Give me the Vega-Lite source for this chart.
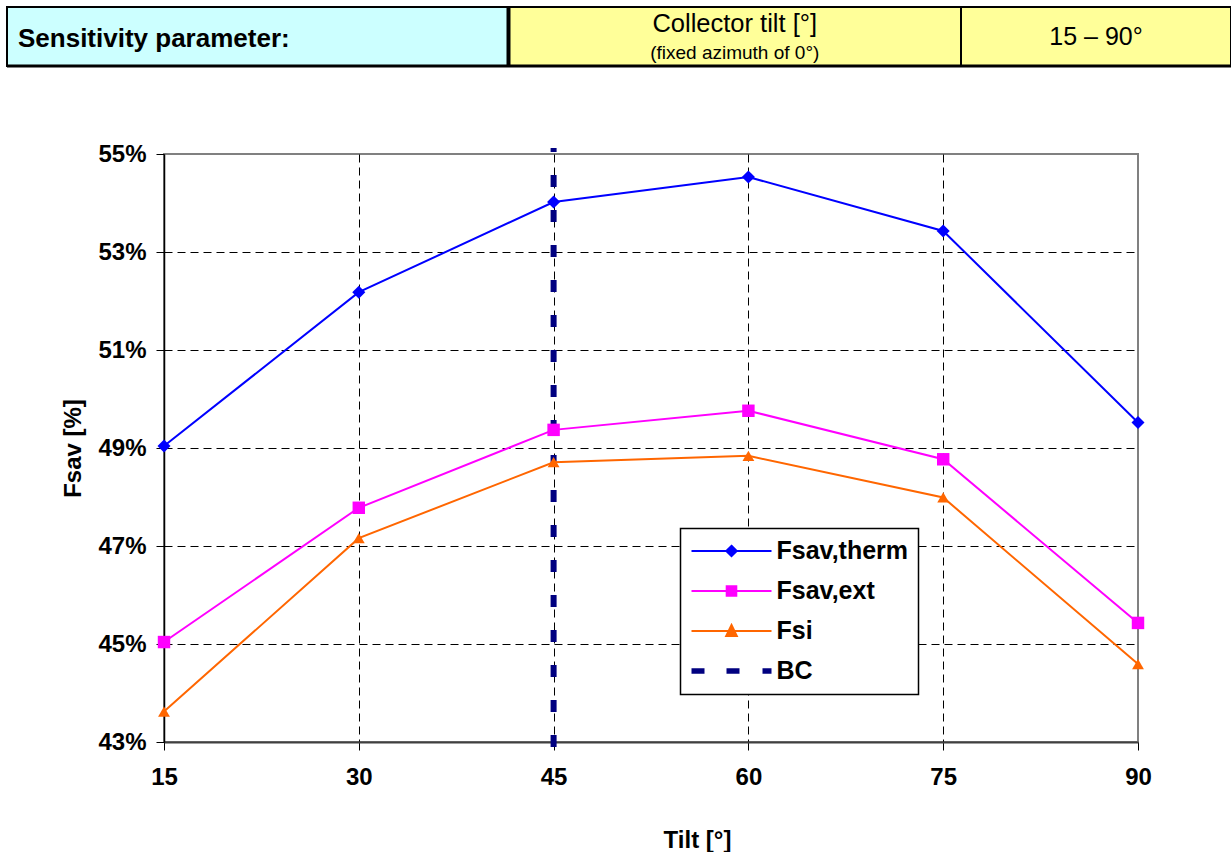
{
  "$schema": "https://vega.github.io/schema/vega-lite/v6.json",
  "background": "white",
  "padding": {"left": 5, "top": 5, "right": 0, "bottom": 0},
  "bounds": "flush",
  "spacing": 88,
  "config": {
    "font": "Liberation Sans",
    "legend": {"strokeWidth": 1.5}
  },
  "resolve": {"scale": {"x": "independent", "y": "independent", "fill": "independent", "color": "independent"}},
  "vconcat": [
    {
      "width": 974,
      "height": 59,
      "view": {"stroke": null},
      "data": {
        "values": [
          {"cell": "parameter", "c0": 0, "c1": 1, "title": "Sensitivity parameter:", "note": ""},
          {"cell": "name", "c0": 1, "c1": 2, "title": "Collector tilt [°]", "note": "(fixed azimuth of 0°)"},
          {"cell": "range", "c0": 2, "c1": 3, "title": "15 – 90°", "note": ""}
        ]
      },
      "layer": [
        {
          "mark": {"type": "rect", "stroke": "black", "strokeWidth": 2},
          "encoding": {
            "x": {"field": "c0", "type": "quantitative", "axis": null,
                  "scale": {"domain": [0, 1, 2, 3], "range": [-157, 344.5, 797, 1067], "nice": false, "zero": false}},
            "x2": {"field": "c1"},
            "y": {"datum": 0, "type": "quantitative", "axis": null,
                  "scale": {"domain": [0, 1], "range": [0, 59], "nice": false, "zero": false}},
            "y2": {"datum": 1},
            "fill": {"field": "cell", "type": "nominal", "legend": null,
                     "scale": {"domain": ["parameter", "name", "range"], "range": ["#CCFFFF", "#FFFF99", "#FFFF99"]}}
          }
        },
        {
          "data": {"values": [{}]},
          "mark": {"type": "rule", "color": "black", "strokeWidth": 3},
          "encoding": {"x": {"datum": 0}, "x2": {"datum": 3}, "y": {"datum": 1}}
        },
        {
          "data": {"values": [{}]},
          "mark": {"type": "rule", "color": "black", "strokeWidth": 4},
          "encoding": {"x": {"datum": 1}, "y": {"datum": 0}, "y2": {"datum": 1}}
        },
        {
          "transform": [{"filter": "datum.cell === 'parameter'"}],
          "mark": {"type": "text", "align": "left", "baseline": "alphabetic", "dx": 11, "fontSize": 26, "fontWeight": "bold", "color": "black"},
          "encoding": {"x": {"field": "c0", "type": "quantitative"}, "y": {"datum": 0.68}, "text": {"field": "title"}}
        },
        {
          "transform": [{"filter": "datum.cell === 'name'"}, {"calculate": "(datum.c0 + datum.c1) / 2", "as": "mid"}],
          "mark": {"type": "text", "align": "center", "baseline": "alphabetic", "fontSize": 25.5, "color": "black"},
          "encoding": {"x": {"field": "mid", "type": "quantitative"}, "y": {"datum": 0.42}, "text": {"field": "title"}}
        },
        {
          "transform": [{"filter": "datum.cell === 'name'"}, {"calculate": "(datum.c0 + datum.c1) / 2", "as": "mid"}],
          "mark": {"type": "text", "align": "center", "baseline": "alphabetic", "fontSize": 19, "color": "black"},
          "encoding": {"x": {"field": "mid", "type": "quantitative"}, "y": {"datum": 0.88}, "text": {"field": "note"}}
        },
        {
          "transform": [{"filter": "datum.cell === 'range'"}, {"calculate": "(datum.c0 + datum.c1) / 2", "as": "mid"}],
          "mark": {"type": "text", "align": "center", "baseline": "alphabetic", "fontSize": 25, "color": "black"},
          "encoding": {"x": {"field": "mid", "type": "quantitative"}, "y": {"datum": 0.65}, "text": {"field": "title"}}
        }
      ]
    },
    {
      "width": 974,
      "height": 588,
      "view": {"stroke": "#808080", "strokeWidth": 2},
      "data": {
        "values": [
          {"series": "Fsav,therm", "tilt": 15, "value": 0.4904},
          {"series": "Fsav,therm", "tilt": 30, "value": 0.5218},
          {"series": "Fsav,therm", "tilt": 45, "value": 0.5402},
          {"series": "Fsav,therm", "tilt": 60, "value": 0.5453},
          {"series": "Fsav,therm", "tilt": 75, "value": 0.5343},
          {"series": "Fsav,therm", "tilt": 90, "value": 0.4952},
          {"series": "Fsav,ext", "tilt": 15, "value": 0.4504},
          {"series": "Fsav,ext", "tilt": 30, "value": 0.4778},
          {"series": "Fsav,ext", "tilt": 45, "value": 0.4937},
          {"series": "Fsav,ext", "tilt": 60, "value": 0.4976},
          {"series": "Fsav,ext", "tilt": 75, "value": 0.4877},
          {"series": "Fsav,ext", "tilt": 90, "value": 0.4543},
          {"series": "Fsi", "tilt": 15, "value": 0.4362},
          {"series": "Fsi", "tilt": 30, "value": 0.4716},
          {"series": "Fsi", "tilt": 45, "value": 0.4871},
          {"series": "Fsi", "tilt": 60, "value": 0.4884},
          {"series": "Fsi", "tilt": 75, "value": 0.4799},
          {"series": "Fsi", "tilt": 90, "value": 0.4459},
          {"series": "BC", "tilt": 45, "value": 0.429},
          {"series": "BC", "tilt": 45, "value": 0.5512}
        ]
      },
      "encoding": {
        "x": {
          "field": "tilt", "type": "quantitative", "title": "Tilt [°]",
          "scale": {"domain": [15, 90], "nice": false, "zero": false},
          "axis": {
            "values": [15, 30, 45, 60, 75, 90],
            "grid": true, "gridColor": "black", "gridDash": [8, 5], "gridWidth": 1,
            "gridOpacity": {"condition": {"test": "datum.value === 15 || datum.value === 90", "value": 0}, "value": 1},
            "domainColor": "#404040", "domainWidth": 2,
            "tickColor": "black", "tickSize": 8, "tickWidth": 1,
            "labelFontSize": 24, "labelFontWeight": "bold", "labelColor": "black", "labelPadding": 15,
            "labelFlush": false, "labelOverlap": false,
            "titleFontSize": 24, "titleFontWeight": "bold", "titleColor": "black",
            "titleX": 533, "titleY": 105, "titleBaseline": "alphabetic", "titleAlign": "center"
          }
        },
        "y": {
          "field": "value", "type": "quantitative", "title": "Fsav [%]",
          "scale": {"domain": [0.43, 0.55], "nice": false, "zero": false},
          "axis": {
            "values": [0.43, 0.45, 0.47, 0.49, 0.51, 0.53, 0.55], "format": ".0%",
            "grid": true, "gridColor": "black", "gridDash": [8, 5], "gridWidth": 1,
            "gridOpacity": {"condition": {"test": "datum.value < 0.431 || datum.value > 0.549", "value": 0}, "value": 1},
            "domainColor": "black", "domainWidth": 1.5,
            "tickColor": "black", "tickSize": 8, "tickWidth": 1,
            "labelFontSize": 24, "labelFontWeight": "bold", "labelColor": "black", "labelPadding": 10,
            "labelFlush": false, "labelOverlap": false,
            "titleFontSize": 24, "titleFontWeight": "bold", "titleColor": "black",
            "titleX": -84, "titleY": 294, "titleBaseline": "alphabetic", "titleAlign": "center", "titleAngle": -90
          }
        },
        "color": {
          "field": "series", "type": "nominal",
          "scale": {"domain": ["Fsav,therm", "Fsav,ext", "Fsi", "BC"], "range": ["#0000FF", "#FF00FF", "#FF6600", "#000080"]},
          "legend": {
            "orient": "none", "legendX": 516.5, "legendY": 374.5, "title": null,
            "padding": 10, "rowPadding": 14,
            "fillColor": "white", "strokeColor": "black",
            "symbolSize": 400, "symbolOffset": 28.5, "labelOffset": 32.5,
            "symbolStrokeWidth": 2, "symbolOpacity": 1,
            "labelFontSize": 25, "labelFontWeight": "bold", "labelColor": "black", "labelLimit": 300,
            "encode": {
              "symbols": {
                "update": {
                  "shape": {"signal": "datum.value === 'Fsav,therm' ? 'M-4,0H4M0,-0.52L0.52,0L0,0.52L-0.52,0Z' : datum.value === 'Fsav,ext' ? 'M-4,0H4M-0.48,-0.48H0.48V0.48H-0.48Z' : datum.value === 'Fsi' ? 'M-4,0H4M0,-0.6L0.53,0.5H-0.53Z' : 'M-3.9,-0.17H-2.8V0.17H-3.9ZM-0.4,-0.17H0.7V0.17H-0.4ZM3.2,-0.17H3.9V0.17H3.2Z'"},
                  "fill": {"signal": "scale('color', datum.value)"},
                  "stroke": {"signal": "scale('color', datum.value)"},
                  "strokeWidth": {"value": 2},
                  "opacity": {"value": 1}
                }
              }
            }
          }
        }
      },
      "layer": [
        {
          "transform": [{"filter": "datum.series === 'BC'"}],
          "mark": {"type": "line", "strokeWidth": 6, "strokeDash": [12, 23], "strokeCap": "butt"},
          "encoding": {"order": {"field": "value", "type": "quantitative"}}
        },
        {
          "transform": [{"filter": "datum.series !== 'BC'"}],
          "mark": {"type": "line", "strokeWidth": 2}
        },
        {
          "transform": [{"filter": "datum.series !== 'BC'"}],
          "mark": {"type": "point", "filled": true, "opacity": 1},
          "encoding": {
            "shape": {"field": "series", "type": "nominal", "legend": null,
                      "scale": {"domain": ["Fsav,therm", "Fsav,ext", "Fsi"], "range": ["diamond", "square", "triangle-up"]}},
            "size": {"field": "series", "type": "nominal", "legend": null,
                     "scale": {"domain": ["Fsav,therm", "Fsav,ext", "Fsi"], "range": [170, 140, 170]}}
          }
        }
      ]
    }
  ]
}
